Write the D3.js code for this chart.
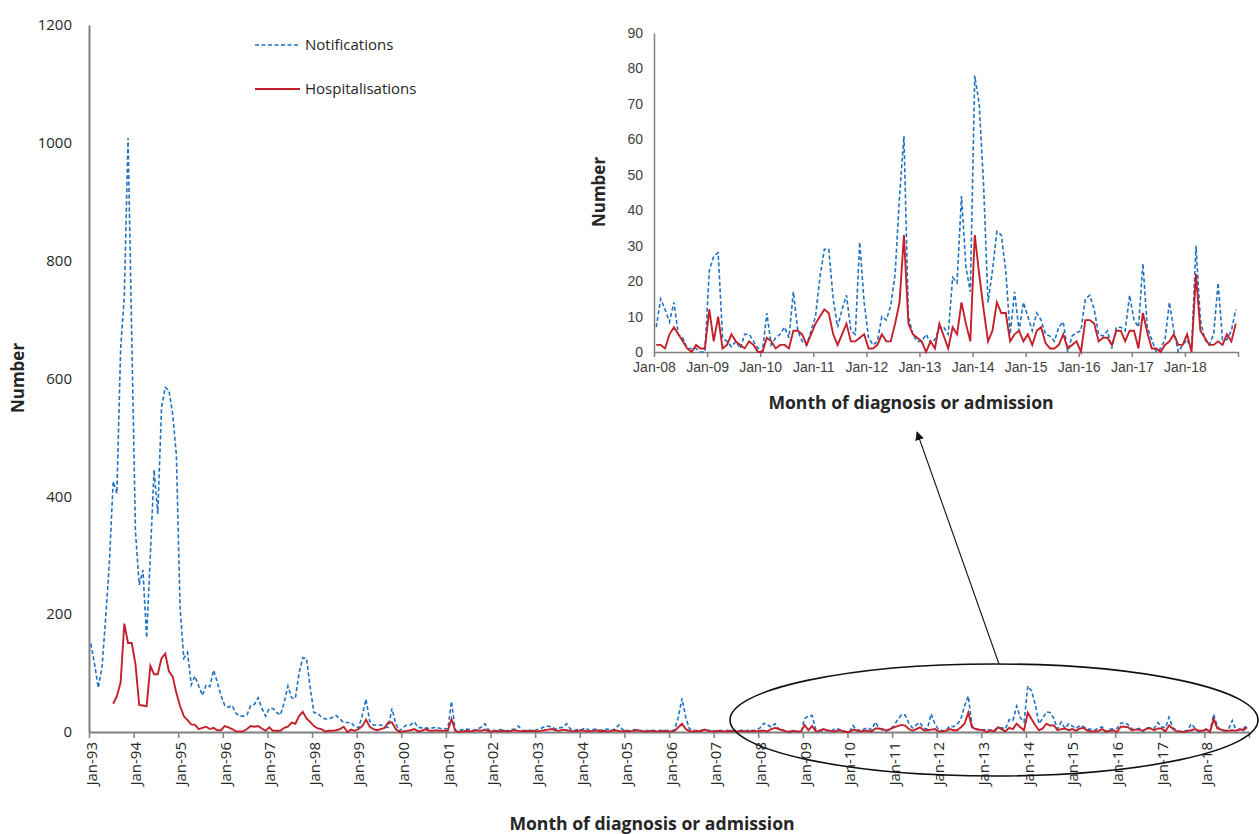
<!DOCTYPE html>
<html>
<head>
<meta charset="utf-8">
<script src="https://cdn.jsdelivr.net/npm/d3@7/dist/d3.min.js"></script>
<style>
  body { margin: 0; background: #fff; }
  svg { display: block; }
</style>
</head>
<body>
<svg id="chart" width="1259" height="834"></svg>
<script>
// Monthly counts, Jan-93 .. Dec-07 (main chart only)
const notifEarly = [
  150, 115, 75, 110, 195, 290, 425, 405, 650, 740, 1008, 670,
  340, 250, 275, 160, 300, 445, 370, 550, 585, 580, 540, 470,
  210, 125, 135, 80, 95, 78, 62, 80, 77, 105, 85, 62,
  45, 42, 45, 32, 27, 27, 29, 45, 47, 58, 40, 27,
  40, 40, 33, 29, 50, 78, 58, 57, 100, 126, 125, 75,
  33, 32, 25, 22, 22, 25, 28, 22, 16, 16, 16, 9,
  7, 28, 56, 18, 12, 12, 12, 9, 8, 40, 14, 2,
  8, 12, 12, 17, 8, 7, 7, 6, 7, 8, 6, 6,
  5, 52, 3, 3, 4, 5, 4, 3, 5, 8, 14, 3,
  3, 2, 4, 3, 2, 4, 5, 10, 3, 2, 3, 2,
  4, 6, 9, 10, 8, 5, 7, 8, 14, 5, 3, 4,
  4, 7, 3, 4, 5, 3, 4, 5, 3, 5, 12, 4,
  3, 2, 4, 3, 2, 3, 2, 3, 2, 3, 2, 3,
  2, 4, 25, 57, 25, 5, 3, 2, 3, 4, 3, 2,
  2, 3, 2, 3, 2, 3, 2, 3, 2, 3, 2, 4
];
const hospEarly = [
  null, null, null, null, null, null, 48, 61, 84, 184, 151, 151,
  115, 46, 45, 44, 112, 98, 98, 125, 133, 103, 94, 66,
  44, 27, 20, 13, 12, 5, 7, 9, 5, 7, 3, 3,
  10, 8, 5, 1, 1, 1, 5, 10, 9, 10, 6, 2,
  8, 2, 2, 2, 7, 9, 16, 14, 27, 34, 23, 17,
  10, 6, 5, 1, 2, 2, 3, 5, 9, 0, 4, 2,
  5, 10, 21, 9, 5, 3, 5, 7, 16, 16, 5, 0,
  1, 2, 3, 5, 1, 2, 5, 2, 2, 3, 2, 2,
  2, 22, 2, 0, 1, 2, 1, 2, 3, 2, 4, 1,
  1, 2, 1, 2, 1, 2, 3, 2, 1, 2, 1, 2,
  1, 2, 3, 4, 5, 3, 2, 4, 3, 2, 1, 2,
  3, 2, 1, 2, 3, 1, 2, 1, 2, 3, 2, 1,
  2, 1, 2, 3, 2, 1, 1, 2, 1, 1, 2, 1,
  1, 2, 8, 14, 5, 1, 1, 2, 1, 4, 2, 1,
  1, 2, 1, 1, 2, 1, 1, 2, 1, 1, 2, 1
];

// Monthly counts, Jan-08 .. Dec-18 (inset and tail of main chart)
const notifRecent = [
  7, 15, 12, 8.5, 14, 5, 4, 1, 1, 1, 0, 0,
  23, 27, 28, 4, 3, 1.5, 3, 1, 5, 5, 3, 1,
  0, 11, 2, 4, 5, 7, 4, 17, 6, 3, 2, 6,
  10, 21, 29, 29, 15, 7, 12, 16, 6, 5, 31, 14,
  4, 2, 3, 10, 9, 13, 22, 44, 61, 10, 5, 3,
  3, 5, 2.5, 3.5, 7, 7, 5, 21, 19.5, 44, 24, 17,
  78, 70, 47, 14, 23, 34, 33, 23, 5, 17, 6, 14,
  10, 6, 11, 9, 5, 4.5, 3, 7, 8.5, 0, 4.5, 5.5,
  6, 15, 16, 12, 5, 4.5, 6, 1, 7, 7, 6, 16,
  9, 7, 25, 7, 3.5, 0, 1, 3.5, 14, 6, 0, 2,
  3.5, 0.7, 30, 9, 3.5, 2, 5, 19.5, 3.5, 3.5, 6, 12
];
const hospRecent = [
  2, 2, 1, 5, 7, 5, 3, 1, 0, 2, 1, 1,
  12, 3, 10, 1, 2, 5, 3, 2, 1, 3, 2, 0,
  0, 4, 3, 1, 2, 2, 1, 6, 6, 5, 2, 5,
  8, 10, 12, 11, 5, 2, 5, 8, 3, 3, 4, 5,
  1, 1, 2, 5, 3, 3, 8, 14, 33, 8, 5, 4,
  3, 0, 3, 1, 8, 4.5, 1, 7, 5, 14, 8, 3,
  33, 22, 12, 3, 6, 14, 11, 11, 3, 5, 6, 3,
  5, 2, 6, 7, 2.5, 1, 1, 2, 5, 1, 2, 3,
  0, 9, 9, 8, 3, 4, 4, 2, 6, 6, 3, 6,
  6, 1, 11, 5.5, 1, 1, 0, 2, 3, 5, 2, 2,
  5, 0, 22, 6, 4, 2, 2, 3, 2, 5, 3, 8
];

const mainTickLabels = ['Jan-93', 'Jan-94', 'Jan-95', 'Jan-96', 'Jan-97', 'Jan-98', 'Jan-99',
  'Jan-00', 'Jan-01', 'Jan-02', 'Jan-03', 'Jan-04', 'Jan-05', 'Jan-06', 'Jan-07', 'Jan-08',
  'Jan-09', 'Jan-10', 'Jan-11', 'Jan-12', 'Jan-13', 'Jan-14', 'Jan-15', 'Jan-16', 'Jan-17', 'Jan-18'];
const insetTickLabels = ['Jan-08', 'Jan-09', 'Jan-10', 'Jan-11', 'Jan-12', 'Jan-13', 'Jan-14',
  'Jan-15', 'Jan-16', 'Jan-17', 'Jan-18'];
const mainYTicks = [0, 200, 400, 600, 800, 1000, 1200];
const insetYTicks = [0, 10, 20, 30, 40, 50, 60, 70, 80, 90];

const BLUE = '#1f72c2';
const RED = '#c4202b';
const AXIS = '#808080';
const mainFont = '"Open Sans", "Noto Sans", sans-serif';
const insetFont = '"Liberation Sans", Arial, sans-serif';

const notifications = notifEarly.concat(notifRecent);
const hospitalisations = hospEarly.concat(hospRecent);

const svg = d3.select('#chart');

// ---- main chart ----
const x = d3.scaleLinear().domain([0, notifications.length]).range([89, 1249]);
const y = d3.scaleLinear().domain([0, 1200]).range([732, 25]);

const yAxis = svg.append('g')
  .attr('transform', 'translate(89,0)')
  .call(d3.axisLeft(y).tickValues(mainYTicks).tickSize(0).tickPadding(17).tickFormat(d3.format('d')));
yAxis.select('.domain').attr('stroke', AXIS).attr('stroke-width', 2);
yAxis.selectAll('text')
  .style('font-family', mainFont).style('font-size', '15px').attr('fill', '#262626');

const xAxis = svg.append('g')
  .attr('transform', 'translate(0,732)')
  .call(d3.axisBottom(x).tickValues(d3.range(0, notifications.length + 1, 12))
    .tickSize(6).tickSizeOuter(0).tickFormat((d, i) => mainTickLabels[i] || ''));
xAxis.select('.domain').attr('stroke', AXIS).attr('stroke-width', 2);
xAxis.selectAll('line').attr('stroke', AXIS).attr('stroke-width', 1.5);
xAxis.selectAll('text')
  .attr('transform', 'rotate(-90)')
  .attr('text-anchor', 'end')
  .attr('x', -10)
  .attr('y', 2)
  .attr('dy', '0.35em')
  .style('font-family', mainFont).style('font-size', '15px').attr('fill', '#262626');

const mainLine = d3.line()
  .defined(d => d != null)
  .x((d, i) => x(i + 0.5))
  .y(d => y(d));

svg.append('path')
  .datum(notifications)
  .attr('d', mainLine)
  .attr('fill', 'none')
  .attr('stroke', BLUE)
  .attr('stroke-width', 1.6)
  .attr('stroke-dasharray', '4,2.5');

svg.append('path')
  .datum(hospitalisations)
  .attr('d', mainLine)
  .attr('fill', 'none')
  .attr('stroke', RED)
  .attr('stroke-width', 1.9);

svg.append('text')
  .attr('transform', 'translate(24,378) rotate(-90)')
  .attr('text-anchor', 'middle')
  .style('font-family', mainFont).style('font-size', '17px').style('font-weight', 'bold')
  .attr('fill', '#262626')
  .text('Number');

svg.append('text')
  .attr('x', 652).attr('y', 830)
  .attr('text-anchor', 'middle')
  .style('font-family', mainFont).style('font-size', '17.6px').style('font-weight', 'bold')
  .attr('fill', '#262626')
  .text('Month of diagnosis or admission');

// legend
const legend = svg.append('g');
legend.append('line')
  .attr('x1', 255).attr('x2', 300).attr('y1', 45).attr('y2', 45)
  .attr('stroke', BLUE).attr('stroke-width', 1.6).attr('stroke-dasharray', '4,2.5');
legend.append('text')
  .attr('x', 305).attr('y', 45).attr('dy', '0.35em')
  .style('font-family', mainFont).style('font-size', '15px').attr('fill', '#262626')
  .text('Notifications');
legend.append('line')
  .attr('x1', 255).attr('x2', 300).attr('y1', 89).attr('y2', 89)
  .attr('stroke', RED).attr('stroke-width', 1.9);
legend.append('text')
  .attr('x', 305).attr('y', 89).attr('dy', '0.35em')
  .style('font-family', mainFont).style('font-size', '15px').attr('fill', '#262626')
  .text('Hospitalisations');

// ---- inset chart ----
const xi = d3.scaleLinear().domain([0, notifRecent.length]).range([654, 1238]);
const yi = d3.scaleLinear().domain([0, 90]).range([352, 33]);

const yiAxis = svg.append('g')
  .attr('transform', 'translate(654,0)')
  .call(d3.axisLeft(yi).tickValues(insetYTicks).tickSize(0).tickPadding(11));
yiAxis.select('.domain').attr('stroke', AXIS).attr('stroke-width', 1.5);
yiAxis.selectAll('text')
  .style('font-family', insetFont).style('font-size', '14px').attr('fill', '#404040');

const xiAxis = svg.append('g')
  .attr('transform', 'translate(0,352)')
  .call(d3.axisBottom(xi).tickValues(d3.range(0, notifRecent.length + 1, 12))
    .tickSize(5).tickSizeOuter(0).tickPadding(5).tickFormat((d, i) => insetTickLabels[i] || ''));
xiAxis.select('.domain').attr('stroke', AXIS).attr('stroke-width', 1.5);
xiAxis.selectAll('line').attr('stroke', AXIS).attr('stroke-width', 1.5);
xiAxis.selectAll('text')
  .style('font-family', insetFont).style('font-size', '14px').attr('fill', '#404040');

const insetLine = d3.line()
  .x((d, i) => xi(i + 0.5))
  .y(d => yi(d));

svg.append('path')
  .datum(notifRecent)
  .attr('d', insetLine)
  .attr('fill', 'none')
  .attr('stroke', BLUE)
  .attr('stroke-width', 1.6)
  .attr('stroke-dasharray', '4,2.5');

svg.append('path')
  .datum(hospRecent)
  .attr('d', insetLine)
  .attr('fill', 'none')
  .attr('stroke', RED)
  .attr('stroke-width', 1.9);

svg.append('text')
  .attr('transform', 'translate(605,192) rotate(-90)')
  .attr('text-anchor', 'middle')
  .style('font-family', mainFont).style('font-size', '17px').style('font-weight', 'bold')
  .attr('fill', '#262626')
  .text('Number');

svg.append('text')
  .attr('x', 911).attr('y', 409)
  .attr('text-anchor', 'middle')
  .style('font-family', mainFont).style('font-size', '17.6px').style('font-weight', 'bold')
  .attr('fill', '#262626')
  .text('Month of diagnosis or admission');

// ---- ellipse + arrow pointing at the inset ----
svg.append('defs').append('marker')
  .attr('id', 'arrow')
  .attr('viewBox', '0 0 10 10')
  .attr('refX', 9).attr('refY', 5)
  .attr('markerWidth', 9).attr('markerHeight', 9)
  .attr('markerUnits', 'userSpaceOnUse')
  .attr('orient', 'auto')
  .append('path')
  .attr('d', 'M0,0L10,5L0,10z')
  .attr('fill', '#111');

svg.append('ellipse')
  .attr('cx', 994).attr('cy', 720).attr('rx', 264).attr('ry', 56)
  .attr('fill', 'none').attr('stroke', '#111').attr('stroke-width', 1.6);

svg.append('line')
  .attr('x1', 999).attr('y1', 664).attr('x2', 917).attr('y2', 432)
  .attr('stroke', '#111').attr('stroke-width', 1.1)
  .attr('marker-end', 'url(#arrow)');
</script>
</body>
</html>
